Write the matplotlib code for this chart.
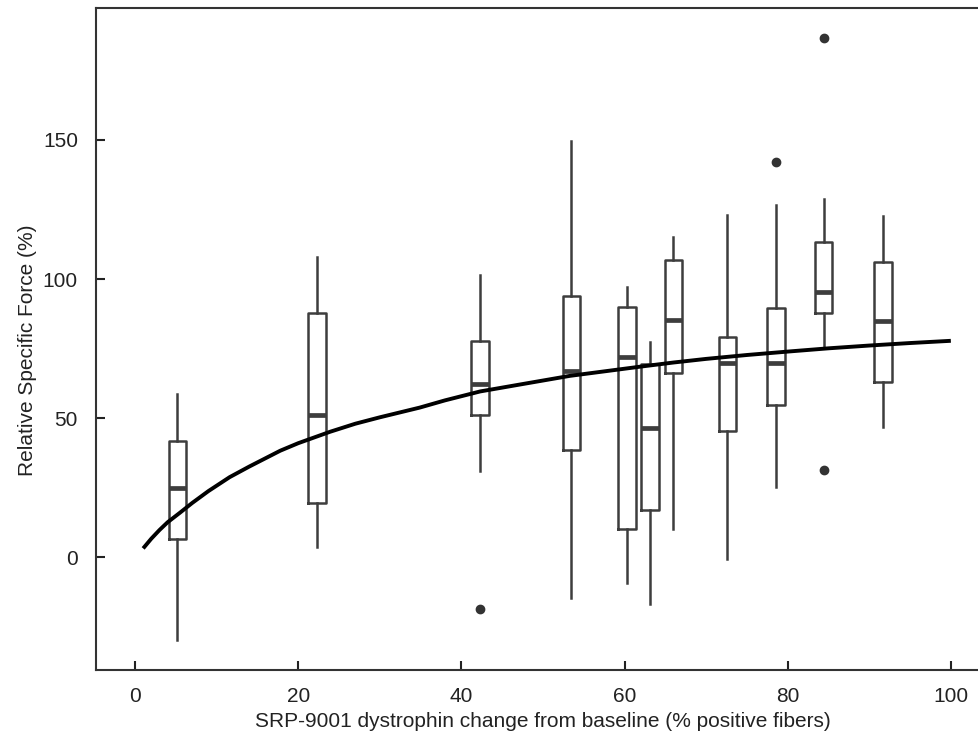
import matplotlib
matplotlib.use('Agg')
import matplotlib.pyplot as plt
import numpy as np

plt.rcParams['font.family'] = ['Liberation Sans', 'DejaVu Sans']

# box summaries at each dystrophin level
positions = [5.2, 22.3, 42.3, 53.5, 60.3, 63.1, 66.0, 72.6, 78.6, 84.4, 91.7]
whislo = [-29.7, 3.8, 31.1, -14.7, -9.3, -16.8, 10.2, -0.6, 25.4, 75.1, 46.9]
q1 = [6.5, 19.4, 51.1, 38.6, 10.2, 17.0, 66.1, 45.4, 54.7, 87.7, 62.9]
med = [24.9, 51.1, 62.2, 66.9, 71.9, 46.3, 85.3, 69.7, 69.9, 95.3, 85.0]
q3 = [41.9, 87.7, 77.8, 94.0, 89.8, 69.5, 106.8, 79.3, 89.5, 113.4, 106.1]
whishi = [58.6, 108.0, 101.4, 149.6, 97.2, 77.5, 115.2, 123.0, 126.6, 128.8, 122.6]
fliers = [[], [], [-18.7], [], [], [], [], [], [141.9], [186.5, 31.4], []]

# fitted curve
fit_x = [1.0, 2.0, 3.0, 4.0, 5.5, 7.0, 9.0, 11.6, 14.0, 17.8, 20.0, 23.9, 27.0, 30.0,
         34.9, 38.0, 42.3, 47.0, 53.3, 58.0, 61.9, 66.0, 70.0, 75.0, 80.3, 85.0, 90.0,
         95.0, 100.0]
fit_y = [3.2, 6.7, 9.8, 12.6, 16.0, 19.5, 23.8, 28.8, 32.6, 38.3, 41.0, 45.1, 48.0, 50.3,
         53.8, 56.4, 59.6, 62.0, 65.2, 67.0, 68.5, 70.0, 71.3, 72.7, 74.0, 75.1, 76.1,
         77.0, 77.8]

col = '#3d3d3d'
stats = []
for i in range(len(positions)):
    stats.append(dict(whislo=whislo[i], q1=q1[i], med=med[i], q3=q3[i],
                      whishi=whishi[i], fliers=fliers[i]))

fig = plt.figure(figsize=(9.79, 7.34), dpi=100)
ax = fig.add_axes([96/979, 64/734, 894/979, 662/734])

ax.bxp(stats, positions=positions, widths=2.15, showcaps=False, manage_ticks=False,
       boxprops=dict(color=col, linewidth=1.8),
       whiskerprops=dict(color=col, linewidth=1.8),
       medianprops=dict(color=col, linewidth=3.4),
       flierprops=dict(marker='o', markerfacecolor='#333333', markeredgecolor='#333333',
                       markersize=6))
ax.plot(fit_x, fit_y, color='black', linewidth=2.8, zorder=5,
        solid_joinstyle='round', solid_capstyle='butt')

ax.set_xlim(-4.78, 104.8)
ax.set_ylim(-40.5, 197.4)
ax.set_xticks([0, 20, 40, 60, 80, 100])
ax.set_yticks([0, 50, 100, 150])
ax.tick_params(direction='in', length=6.5, width=1.5, labelsize=15, colors='#222222', pad=12.5)
ax.tick_params(axis='y', pad=13)
for s in ax.spines.values():
    s.set_linewidth(1.5)
    s.set_color('#333333')
ax.spines['right'].set_visible(False)

ax.set_xlabel('SRP-9001 dystrophin change from baseline (% positive fibers)', fontsize=15, color='#222222', labelpad=4)
ax.set_ylabel('Relative Specific Force (%)', fontsize=15, color='#222222')
ax.yaxis.set_label_coords(-0.066, 0.483)

plt.savefig('out.png', dpi=100)
